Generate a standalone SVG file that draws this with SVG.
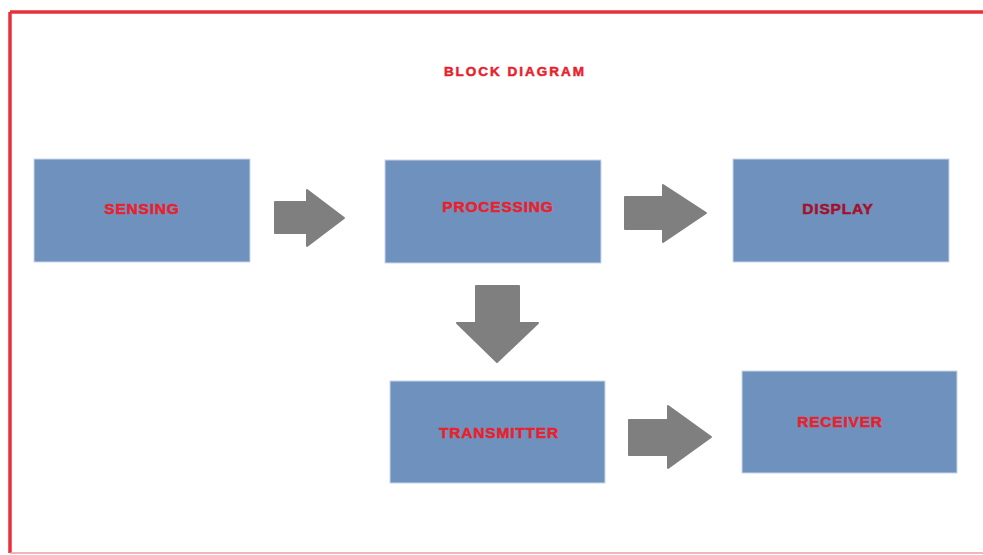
<svg xmlns="http://www.w3.org/2000/svg" width="983" height="555" viewBox="0 0 983 555">
<style>
.box{fill:#6e91be;stroke:#c9d6e8;stroke-width:1}
.lbl{font-family:"Liberation Sans",Arial,sans-serif;font-weight:bold;font-size:15.5px;fill:#e8212c;stroke:#e8212c;stroke-width:0.5;text-anchor:middle;letter-spacing:0.8px}
.dark{fill:#a3122c;stroke:#a3122c}
.arr{fill:#7f7f7f;stroke:#7f7f7f;stroke-width:2;stroke-linejoin:round}
</style>
<rect x="0" y="0" width="983" height="555" fill="#ffffff"/>
<g id="frame">
<line x1="10" y1="12" x2="983" y2="12" stroke="#e8303a" stroke-width="3.5"/>
<line x1="10" y1="12" x2="10" y2="553" stroke="#e8303a" stroke-width="3.5"/>
<line x1="10" y1="553" x2="983" y2="553" stroke="#f29aa0" stroke-width="1.5"/>
</g>
<text id="title" x="515" y="76" class="lbl" style="font-size:13.5px;letter-spacing:2px">BLOCK DIAGRAM</text>
<g id="sensing"><rect class="box" x="34" y="159" width="216" height="103"/><text class="lbl" x="142" y="214">SENSING</text></g>
<g id="processing"><rect class="box" x="385" y="160" width="216" height="103"/><text class="lbl" x="498" y="212">PROCESSING</text></g>
<g id="display"><rect class="box" x="733" y="159" width="216" height="103"/><text class="lbl dark" x="838" y="214">DISPLAY</text></g>
<g id="transmitter"><rect class="box" x="390" y="381" width="215" height="102"/><text class="lbl" x="499" y="438">TRANSMITTER</text></g>
<g id="receiver"><rect class="box" x="742" y="371" width="215" height="102"/><text class="lbl" x="840" y="427">RECEIVER</text></g>
<g id="connectors">
<polygon class="arr" points="275,202 307,202 307,190 344,218 307,246 307,233 275,233"/>
<polygon class="arr" points="625,197 663,197 663,185 706,213 663,242 663,229 625,229"/>
<polygon class="arr" points="476,286 519,286 519,323 538,323 497,362 457,323 476,323"/>
<polygon class="arr" points="629,420 668,420 668,406 711,437 668,468 668,455 629,455"/>
</g>
</svg>
